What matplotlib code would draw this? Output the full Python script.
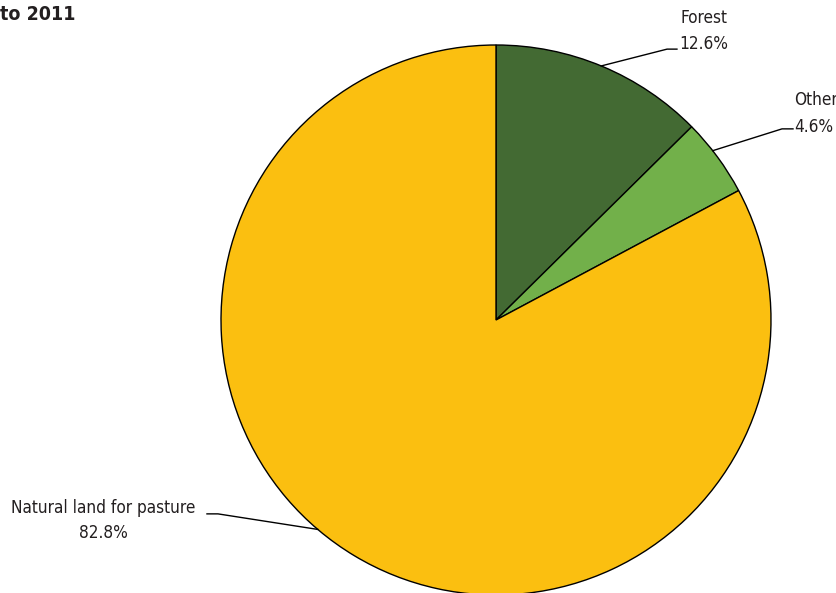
import numpy as np
import matplotlib
matplotlib.use('Agg')
import matplotlib.pyplot as plt

labels = ['Forest', 'Other', 'Natural land for pasture']
shares = [12.6, 4.6, 82.8]
colors = ['#436a33', '#72b04a', '#fbbf10']

plt.rcParams['font.family'] = ['DejaVu Sans']
plt.rcParams['font.stretch'] = 'condensed'

fig = plt.figure(figsize=(8.36, 5.93), dpi=100)
ax = fig.add_axes([221/836, -2/593, 550/836, 550/593])

wedges, _ = ax.pie(shares, colors=colors, startangle=90, counterclock=False,
                   radius=1, center=(0, 0), frame=False,
                   wedgeprops=dict(edgecolor='black', linewidth=1.0))
ax.set_xlim(-1, 1)
ax.set_ylim(-1, 1)
ax.set_aspect('equal')
ax.axis('off')

# leader lines: anchor angle on the rim, elbow, end; text position
anchor_ang = [67.5, 38.0, 229.6]
elbows = [(0.622, 0.985), (1.04, 0.695), (-1.011, -0.705)]
ends = [(0.658, 0.985), (1.08, 0.695), (-1.051, -0.705)]
txt_pos = [(0.756, 1.098, 1.004, 'center'), (1.083, 0.80, 0.702, 'left'),
           (-1.429, -0.684, -0.775, 'center')]

for i in range(3):
    a = np.deg2rad(anchor_ang[i])
    x0, y0 = np.cos(a), np.sin(a)
    ax.plot([x0, elbows[i][0], ends[i][0]], [y0, elbows[i][1], ends[i][1]],
            color='black', lw=1.0, clip_on=False)
    tx, ty1, ty2, ha = txt_pos[i]
    ax.text(tx, ty1, labels[i], ha=ha, va='center', fontsize=12.3, color='#231f20',
            fontstretch='condensed', clip_on=False)
    ax.text(tx, ty2, f'{shares[i]}%', ha=ha, va='center', fontsize=12.3, color='#231f20',
            fontstretch='condensed', clip_on=False)

fig.text(0, 1 - 15/593, 'to 2011', ha='left', va='center', fontsize=14,
         fontweight='bold', fontstretch='condensed', color='#231f20')

fig.savefig('out.png', dpi=100)
